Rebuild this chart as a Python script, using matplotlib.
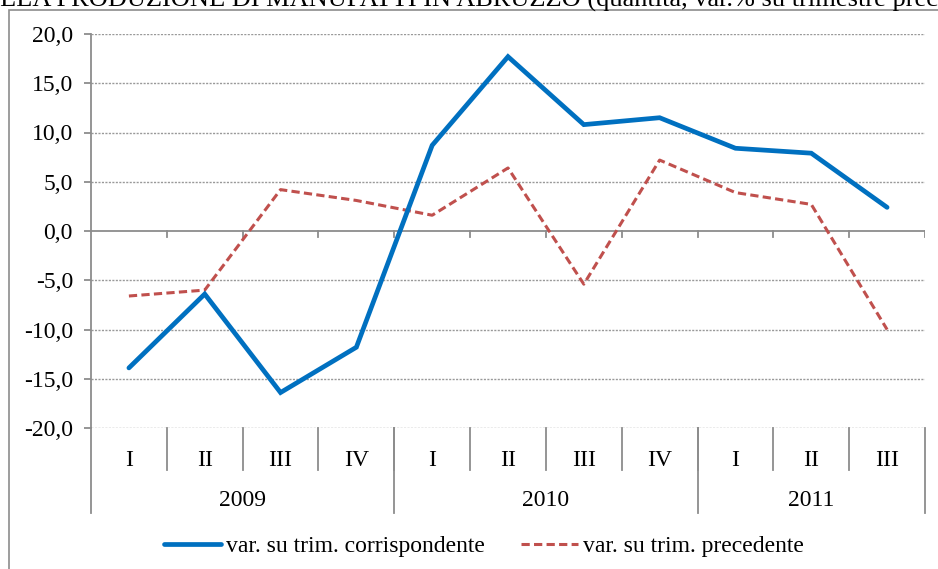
import matplotlib
matplotlib.use("Agg")
import matplotlib.pyplot as plt
from matplotlib.lines import Line2D
from matplotlib.patches import Rectangle
from matplotlib.ticker import FuncFormatter, MultipleLocator

plt.rcParams['font.family'] = ['Liberation Serif', 'DejaVu Serif']

# data
quarters = ['I', 'II', 'III', 'IV', 'I', 'II', 'III', 'IV', 'I', 'II', 'III']
years = ['2009', '2010', '2011']
year_len = [4, 4, 3]
corrisp = [-13.9, -6.4, -16.4, -11.8, 8.7, 17.7, 10.8, 11.5, 8.4, 7.9, 2.4]
preced = [-6.6, -6.0, 4.2, 3.1, 1.6, 6.4, -5.4, 7.2, 3.9, 2.7, -10.0]

grey = '#8c8c8c'
fs = 17

fig = plt.figure(figsize=(9.38, 5.69), dpi=100)
ax = fig.add_axes([91/938, 1 - 428/569, (925 - 91)/938, (428 - 34)/569])

# outer chart border (cut off on the right and bottom)
fig.patches.append(Rectangle((9/938, -0.1), 1.2, 1 - 10/569 + 0.1,
                             transform=fig.transFigure, fill=False,
                             edgecolor=grey, lw=1.2))

# clipped title at the top
fig.text(-0.037, 1 - 7/569,
         'DELLA PRODUZIONE DI MANUFATTI IN ABRUZZO (quantità, var.% su trimestre precedente)',
         fontsize=19, va='baseline', ha='left')

x = list(range(len(quarters)))
ax.set_xlim(-0.5, len(quarters) - 0.5)
ax.set_ylim(-20, 20)

for v in range(-20, 25, 5):
    if v != 0:
        ax.axhline(v, color='#999999', lw=1, ls=(0, (1.5, 1)), zorder=1)
ax.axhline(0, color=grey, lw=1.3, zorder=1)
for b in [i + 0.5 for i in range(len(quarters))]:
    ax.plot([b, b], [0, -0.65], color=grey, lw=1.3, zorder=1)

ax.plot(x, corrisp, color='#0070C0', lw=3.4, solid_joinstyle='miter',
        solid_capstyle='round', label='var. su trim. corrispondente', zorder=3)
ax.plot(x, preced, color='#C0504D', lw=2.2, ls=(0, (2.7, 1.4)),
        label='var. su trim. precedente', zorder=2)

for s in ['top', 'right', 'bottom']:
    ax.spines[s].set_visible(False)
ax.spines['left'].set_color(grey)
ax.spines['left'].set_linewidth(1.3)
ax.yaxis.set_major_locator(MultipleLocator(5))
ax.yaxis.set_major_formatter(FuncFormatter(lambda v, p: f"{v:.1f}".replace('.', ',')))
ax.tick_params(axis='y', length=5, width=1.3, color=grey, pad=8, labelsize=fs)
ax.set_xticks([])

# multi-level category axis
tr = ax.get_xaxis_transform()
q_bot = -42/394
y_bot = -85/394
for i, q in enumerate(quarters):
    ax.text(i, -32/394, q, transform=tr, ha='center', va='center', fontsize=fs)
for i in range(1, len(quarters)):
    ax.add_line(Line2D([i - 0.5, i - 0.5], [0, q_bot], transform=tr,
                       color=grey, lw=1.3, clip_on=False))
start = 0
edges = [-0.5]
for y, n in zip(years, year_len):
    ax.text(start + (n - 1) / 2, -72/394, y, transform=tr, ha='center',
            va='center', fontsize=fs)
    start += n
    edges.append(start - 0.5)
for e in edges:
    ax.add_line(Line2D([e, e], [0, y_bot], transform=tr, color=grey,
                       lw=1.3, clip_on=False))

fig.legend(loc='center', bbox_to_anchor=(0.516, 1 - 546/569), ncol=2,
           frameon=False, fontsize=fs, handlelength=2.4, handletextpad=0.2,
           columnspacing=1.55)

fig.savefig('out.png', dpi=100)
